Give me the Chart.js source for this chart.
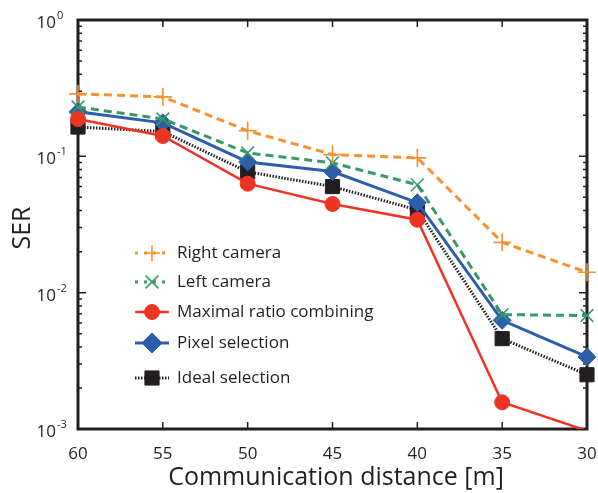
<!DOCTYPE html>
<html>
<head>
<meta charset="utf-8">
<script src="https://cdn.jsdelivr.net/npm/chart.js@4.4.1/dist/chart.umd.min.js"></script>
<style>
    html, body { margin: 0; padding: 0; background: #fff; }
    #wrap { width: 598px; height: 493px; }
</style>
</head>
<body>
<div id="wrap"><canvas id="serChart"></canvas></div>
<script>
const distances = [60, 55, 50, 45, 40, 35, 30];
const rightCamera = [0.287, 0.273, 0.154, 0.103, 0.0975, 0.0234, 0.0141];
const leftCamera = [0.23, 0.188, 0.106, 0.0896, 0.0618, 0.0069, 0.0068];
const maximalRatio = [0.188, 0.141, 0.063, 0.0447, 0.0343, 0.00157, 0.00097];
const pixelSelection = [0.212, 0.176, 0.091, 0.0773, 0.0457, 0.00627, 0.00338];
const idealSelection = [0.164, 0.152, 0.077, 0.06, 0.0405, 0.0046, 0.0025];
const yDecades = [1, 0.1, 0.01, 0.001];
const yExponents = ['0', '-1', '-2', '-3'];

const FONT = '"Open Sans", "DejaVu Sans", sans-serif';
const INK = '#231f20';
const Y_MIN = 0.001;

const toPoints = (values) => values.map((v, i) => ({ x: distances[i], y: v }));

const series = [
    { label: 'Right camera', data: rightCamera, color: '#f5922f', dash: [8, 5], width: 3, style: 'cross', radius: 9, legendRadius: 8, legendDash: [3, 6], filled: false },
    { label: 'Left camera', data: leftCamera, color: '#36996a', dash: [8, 5], width: 3, style: 'crossRot', radius: 9, legendRadius: 9, legendDash: [3, 6], filled: false },
    { label: 'Maximal ratio combining', data: maximalRatio, color: '#ee3425', dash: [], width: 2.5, style: 'circle', radius: 7.5, legendRadius: 7.5, legendDash: [], filled: true },
    { label: 'Pixel selection', data: pixelSelection, color: '#2c5eab', dash: [], width: 3, style: 'rectRot', radius: 9, legendRadius: 10, legendDash: [], filled: true },
    { label: 'Ideal selection', data: idealSelection, color: INK, dash: [1.5, 1.5], width: 3, style: 'rect', radius: 10, legendRadius: 10, legendDash: [1.5, 1.5], filled: true },
];

const framePlugin = {
    id: 'frame',
    beforeDatasetsDraw(chart) {
        const { ctx, chartArea: a, scales } = chart;
        ctx.save();
        ctx.strokeStyle = INK;
        ctx.lineWidth = 1.5;
        // x ticks, top and bottom, pointing in
        distances.forEach((d) => {
            const x = scales.x.getPixelForValue(d);
            ctx.beginPath();
            ctx.moveTo(x, a.bottom); ctx.lineTo(x, a.bottom - 7);
            ctx.moveTo(x, a.top); ctx.lineTo(x, a.top + 7);
            ctx.stroke();
        });
        // y major and minor ticks, left and right
        yDecades.forEach((dec) => {
            for (let m = 1; m <= 9; m++) {
                const v = dec * m;
                if (v > 1 || (m > 1 && dec === 1)) continue;
                const y = scales.y.getPixelForValue(v);
                const len = m === 1 ? 8 : 4;
                ctx.beginPath();
                ctx.moveTo(a.left, y); ctx.lineTo(a.left + len, y);
                ctx.moveTo(a.right, y); ctx.lineTo(a.right - len, y);
                ctx.stroke();
            }
        });
        ctx.lineWidth = 3;
        ctx.strokeRect(a.left, a.top, a.right - a.left, a.bottom - a.top);
        ctx.restore();
    },
    afterDraw(chart) {
        const { ctx, chartArea: a, scales } = chart;
        ctx.save();
        ctx.fillStyle = INK;
        // x tick labels
        ctx.font = `17px ${FONT}`;
        ctx.textAlign = 'center';
        ctx.textBaseline = 'middle';
        distances.forEach((d) => {
            ctx.fillText(String(d), scales.x.getPixelForValue(d), 454);
        });
        // y tick labels as 10^n
        yDecades.forEach((dec, i) => {
            const y = scales.y.getPixelForValue(dec);
            ctx.font = `17px ${FONT}`;
            ctx.textAlign = 'right';
            ctx.fillText('10', 56, y + 3);
            ctx.font = `11px ${FONT}`;
            ctx.textAlign = 'left';
            ctx.fillText(yExponents[i], 57, y - 4);
        });
        // axis titles
        ctx.font = `25px ${FONT}`;
        ctx.textAlign = 'center';
        ctx.fillText('Communication distance [m]', 336, 478);
        ctx.save();
        ctx.translate(23, 228);
        ctx.rotate(-Math.PI / 2);
        ctx.fillText('SER', 0, 0);
        ctx.restore();

        // legend inside the plot
        const rows = [253, 282, 312, 343, 378];
        series.forEach((s, i) => {
            const y = rows[i];
            ctx.strokeStyle = s.color;
            ctx.fillStyle = s.color;
            ctx.lineWidth = s.width;
            ctx.setLineDash(s.legendDash);
            ctx.beginPath();
            ctx.moveTo(135, y); ctx.lineTo(169, y);
            ctx.stroke();
            ctx.setLineDash([]);
            ctx.lineWidth = s.filled ? 1 : 1.6;
            Chart.helpers.drawPoint(ctx, { pointStyle: s.style, radius: s.legendRadius, rotation: 0, borderWidth: ctx.lineWidth }, 152, y);
            ctx.fillStyle = INK;
            ctx.font = `17px ${FONT}`;
            ctx.textAlign = 'left';
            ctx.textBaseline = 'middle';
            ctx.fillText(s.label, 177, y);
        });
        ctx.restore();
    }
};

function renderSerChart() {
    const canvas = document.getElementById('serChart');
    const context = canvas.getContext('2d');
    if (!context) {
        return;
    }
    new Chart(context, {
        type: 'line',
        data: {
            datasets: series.map((s) => ({
                label: s.label,
                data: toPoints(s.data),
                borderColor: s.color,
                backgroundColor: s.color,
                borderWidth: s.width,
                borderDash: s.dash,
                pointStyle: s.style,
                pointRadius: (c) => (c.raw && c.raw.y < Y_MIN ? 0 : s.radius),
                pointBorderWidth: s.filled ? 1 : 1.6,
                pointBorderColor: s.color,
                pointBackgroundColor: s.color,
                tension: 0,
                clip: { left: 20, top: 20, right: 20, bottom: 0 },
            })),
        },
        options: {
            responsive: true,
            maintainAspectRatio: false,
            animation: false,
            layout: { padding: { left: 78, right: 9, top: 20, bottom: 64 } },
            scales: {
                x: { type: 'linear', reverse: true, min: 30, max: 60, display: false },
                y: { type: 'logarithmic', min: Y_MIN, max: 1, display: false },
            },
            plugins: {
                legend: { display: false },
                tooltip: { enabled: false },
            },
        },
        plugins: [framePlugin],
    });
}

document.addEventListener('DOMContentLoaded', renderSerChart);
</script>
</body>
</html>
